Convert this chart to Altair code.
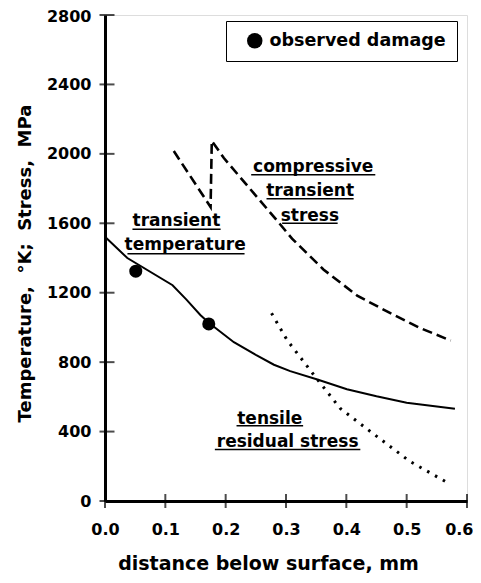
import altair as alt
import pandas as pd

FONT = "DejaVu Sans"

# transient temperature (solid)
temp_x = [0.0, 0.037, 0.112, 0.135, 0.158, 0.1725, 0.2136, 0.25, 0.28, 0.307, 0.352, 0.401, 0.45, 0.5, 0.58]
temp_y = [1522, 1400, 1243, 1160, 1072, 1025, 915, 842, 785, 748, 700, 644, 603, 566, 532]

# compressive transient stress (dashed)
comp_x = [0.114, 0.175, 0.177, 0.197, 0.24, 0.285, 0.310, 0.362, 0.418, 0.473, 0.52, 0.573]
comp_y = [2016, 1694, 2075, 1976, 1800, 1616, 1512, 1334, 1183, 1082, 1000, 924]

# tensile residual stress (dotted)
tens_x = [0.276, 0.302, 0.352, 0.39, 0.44, 0.505, 0.568]
tens_y = [1082, 926, 700, 533, 400, 229, 105]

# observed damage
dmg_x = [0.051, 0.172]
dmg_y = [1324, 1020]
dmg_label = "observed damage"

x_ticks = [0.0, 0.1, 0.2, 0.3, 0.4, 0.5, 0.6]
y_ticks = [0, 400, 800, 1200, 1600, 2000, 2400, 2800]

# annotation lines: text, centre x, baseline y
ann_text = ["transient", "temperature", "compressive", "transient", "stress",
            "tensile", "residual stress"]
ann_x = [0.1184, 0.1328, 0.3451, 0.340, 0.3396, 0.2731, 0.3027]
ann_y = [1583, 1446, 1895, 1756, 1616, 441, 309]
# underlines for each annotation line
ul_x1 = [0.0455, 0.0372, 0.2423, 0.2677, 0.2936, 0.2180, 0.1821]
ul_x2 = [0.1916, 0.2313, 0.4480, 0.4121, 0.3856, 0.3284, 0.4232]
ul_y = [1566, 1424, 1879, 1742, 1600, 434, 296]

temp_df = pd.DataFrame({"x": temp_x, "y": temp_y})
comp_df = pd.DataFrame({"x": comp_x, "y": comp_y, "i": list(range(len(comp_x)))})
tens_df = pd.DataFrame({"x": tens_x, "y": tens_y})
dmg_df = pd.DataFrame({"x": dmg_x, "y": dmg_y, "series": [dmg_label] * len(dmg_x)})
ann_df = pd.DataFrame({"t": ann_text, "x": ann_x, "y": ann_y})
ul_df = pd.DataFrame({"x": ul_x1, "x2": ul_x2, "y": ul_y})
xt_df = pd.DataFrame({"x": x_ticks})
yt_df = pd.DataFrame({"y": y_ticks})

W, H = 362, 486

xscale = alt.Scale(domain=[0, 0.6], nice=False, zero=False)
yscale = alt.Scale(domain=[0, 2800], nice=False)

last_x = "datum.value >= 0.59"
top_y = "datum.value >= 2799"
x_axis = alt.Axis(
    values=x_ticks, format=".1f", ticks=False, grid=False,
    domainColor="black", domainWidth=3,
    labelFont=FONT, labelFontWeight="bold", labelFontSize=16, labelColor="black",
    labelPadding=20, labelFlush=False,
    labelAlign={"condition": {"test": last_x, "value": "right"}, "value": "center"},
    labelOffset={"condition": {"test": last_x, "value": 6}, "value": 0},
    title="distance below surface, mm", titleFont=FONT, titleFontWeight="bold",
    titleFontSize=19, titleColor="black", titleX=163, titleY=68,
    titleBaseline="alphabetic", titleAlign="center",
)
y_axis = alt.Axis(
    values=y_ticks, format="d", ticks=False, grid=False,
    domainColor="black", domainWidth=3,
    labelFont=FONT, labelFontWeight="bold", labelFontSize=16, labelColor="black",
    labelPadding=14, labelFlush=False,
    labelOffset={"condition": {"test": top_y, "value": 1}, "value": 0},
    title="Temperature,\u00a0 \u00b0K;\u00a0 Stress,\u00a0 MPa", titleFont=FONT,
    titleFontWeight="bold", titleFontSize=18, titleColor="black",
    titleX=-75, titleY=248, titleAngle=-90, titleBaseline="alphabetic", titleAlign="center",
)

X = alt.X("x:Q", scale=xscale, axis=x_axis)
Y = alt.Y("y:Q", scale=yscale, axis=y_axis)

temp_line = alt.Chart(temp_df).mark_line(color="black", strokeWidth=2).encode(x=X, y=Y)
comp_line = alt.Chart(comp_df).mark_line(
    color="black", strokeWidth=2.6, strokeDash=[10, 5]
).encode(x=X, y=Y, order=alt.Order("i:Q"))
tens_line = alt.Chart(tens_df).mark_line(
    color="black", strokeWidth=3, strokeDash=[2.5, 6.5]
).encode(x=X, y=Y)

points = alt.Chart(dmg_df).mark_point(filled=True, size=170, opacity=1).encode(
    x=X, y=Y,
    color=alt.Color(
        "series:N", scale=alt.Scale(range=["black"]),
        legend=alt.Legend(
            title=None, orient="none", legendX=121, legendY=6,
            padding=11, symbolOffset=9, labelOffset=6,
            fillColor="white", strokeColor="black",
            symbolType="circle", symbolSize=240, symbolStrokeWidth=0,
            labelFont=FONT, labelFontWeight="bold", labelFontSize=17.5,
            labelColor="black", labelLimit=400,
        ),
    ),
)

ann = alt.Chart(ann_df).mark_text(
    font=FONT, fontWeight="bold", fontSize=17, align="center",
    baseline="alphabetic", color="black",
).encode(x=X, y=Y, text="t:N")

ul = alt.Chart(ul_df).mark_rule(color="black", strokeWidth=1.5).encode(
    x=X, x2="x2:Q", y=Y
)

yt = alt.Chart(yt_df).mark_tick(orient="horizontal", color="black", thickness=2, size=15).encode(
    y=Y, x=alt.value(2)
)
xt = alt.Chart(xt_df).mark_tick(orient="vertical", color="black", thickness=2, size=14).encode(
    x=X, y=alt.value(H)
)

chart = alt.layer(temp_line, comp_line, tens_line, points, ann, ul, yt, xt).properties(
    width=W, height=H,
    padding={"left": 97, "top": 7, "right": 6, "bottom": 72},
    autosize=alt.AutoSizeParams(type="none"),
).configure_view(
    stroke="#333", strokeWidth=1, strokeDash=[2, 1]
).configure(background="white")

chart.save("out.html", embed_options={"renderer": "svg", "actions": False})
